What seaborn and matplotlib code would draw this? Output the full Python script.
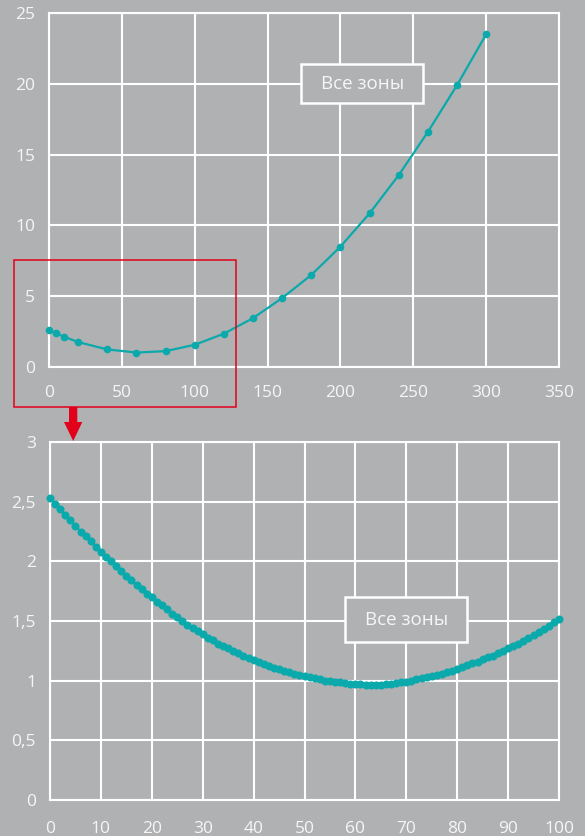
import numpy as np
import matplotlib
matplotlib.use("Agg")
import matplotlib.pyplot as plt
import seaborn as sns
from matplotlib.patches import Rectangle, Polygon

# данные верхнего графика (все зоны, шаг 20)
top_x = [0, 5, 10, 20, 40, 60, 80, 100, 120, 140, 160, 180, 200, 220, 240, 260, 280, 300]
top_y = [2.6, 2.38, 2.15, 1.76, 1.24, 1.02, 1.12, 1.57, 2.35, 3.45, 4.87, 6.5, 8.5,
         10.85, 13.55, 16.6, 19.9, 23.5]

# данные нижнего графика (0..100, шаг 1)
bot_x = list(range(0, 101))
bot_y = [2.53, 2.48, 2.44, 2.39, 2.35, 2.30, 2.25, 2.21, 2.17, 2.12,
         2.08, 2.04, 2.00, 1.96, 1.92, 1.88, 1.84, 1.80, 1.77, 1.73,
         1.70, 1.66, 1.63, 1.60, 1.56, 1.53, 1.50, 1.47, 1.44, 1.42,
         1.39, 1.36, 1.34, 1.31, 1.29, 1.27, 1.25, 1.23, 1.21, 1.19,
         1.17, 1.16, 1.14, 1.12, 1.11, 1.10, 1.08, 1.07, 1.06, 1.05,
         1.04, 1.03, 1.02, 1.01, 1.00, 0.995, 0.99, 0.985, 0.98, 0.975,
         0.97, 0.968, 0.966, 0.965, 0.965, 0.966, 0.968, 0.972, 0.978, 0.985,
         0.99, 1.00, 1.01, 1.02, 1.03, 1.04, 1.05, 1.06, 1.07, 1.085,
         1.10, 1.115, 1.13, 1.145, 1.16, 1.18, 1.195, 1.21, 1.23, 1.25,
         1.27, 1.29, 1.31, 1.33, 1.355, 1.38, 1.405, 1.43, 1.46, 1.49,
         1.52]

top_xticks = [0, 50, 100, 150, 200, 250, 300, 350]
top_yticks = [0, 5, 10, 15, 20, 25]
bot_xticks = [0, 10, 20, 30, 40, 50, 60, 70, 80, 90, 100]
bot_yticks = [0, 0.5, 1, 1.5, 2, 2.5, 3]
bot_ylabels = ["0", "0,5", "1", "1,5", "2", "2,5", "3"]
label = "Все зоны"

bg = "#b0b1b3"
teal = "#0aa9ab"
red = "#e2001a"
fg = "#f6f6f6"

sns.set_style("white")
plt.rcParams["font.family"] = ["Open Sans", "DejaVu Sans"]

W, H = 585, 836
fig = plt.figure(figsize=(W / 100, H / 100), dpi=100, facecolor=bg)


def box(l, t, r, b):
    return [l / W, 1 - b / H, (r - l) / W, (b - t) / H]


def px(x, y):
    return (x / W, 1 - y / H)


ax1 = fig.add_axes(box(49, 13, 559, 367))
ax2 = fig.add_axes(box(50, 442, 559, 800))

for ax in (ax1, ax2):
    ax.set_facecolor(bg)
    ax.grid(True, color="white", linewidth=1.5)
    ax.set_axisbelow(True)
    for s in ax.spines.values():
        s.set_color("white")
        s.set_linewidth(1.5)
    ax.tick_params(length=0, labelsize=12.5, labelcolor=fg)
    ax.tick_params(axis="y", pad=10)

ax1.tick_params(axis="x", pad=13)
ax2.tick_params(axis="x", pad=15)

sns.lineplot(x=top_x, y=top_y, ax=ax1, color=teal, linewidth=1.6, marker="o",
             markersize=5.5, markeredgewidth=0, clip_on=False, zorder=4)
sns.lineplot(x=bot_x, y=bot_y, ax=ax2, color=teal, linewidth=1.5, marker="o",
             markersize=5.8, markeredgewidth=0, clip_on=False, zorder=4)

ax1.set_xlim(0, 350)
ax1.set_ylim(0, 25)
ax1.set_xticks(top_xticks)
ax1.set_yticks(top_yticks)
ax1.set_xticklabels([str(v) for v in top_xticks])
ax1.set_yticklabels([str(v) for v in top_yticks])

ax2.set_xlim(0, 100)
ax2.set_ylim(0, 3)
ax2.set_xticks(bot_xticks)
ax2.set_yticks(bot_yticks)
ax2.set_xticklabels([str(v) for v in bot_xticks])
ax2.set_yticklabels(bot_ylabels)

# подписи в рамках
ax1.add_patch(Rectangle((173, 18.62), 84, 2.78, facecolor=bg, edgecolor="white",
                        linewidth=1.8, zorder=3))
ax1.text(215, 20.0, label, ha="center", va="center", fontsize=13.5, color=fg, zorder=5)
ax2.add_patch(Rectangle((58, 1.32), 24, 0.38, facecolor=bg, edgecolor="white",
                        linewidth=1.8, zorder=3))
ax2.text(70, 1.51, label, ha="center", va="center", fontsize=13.5, color=fg, zorder=5)

# красная рамка и стрелка
l, t, r, b = 14, 260, 236, 406.5
fig.add_artist(Rectangle(px(l, b), (r - l) / W, (b - t) / H, transform=fig.transFigure,
                         fill=False, edgecolor=red, linewidth=1.1))
arrow = [px(69, 407), px(77.3, 407), px(77.3, 422), px(82.3, 422), px(73.2, 441),
         px(64, 422), px(69, 422)]
fig.add_artist(Polygon(arrow, closed=True, transform=fig.transFigure,
                       facecolor=red, edgecolor="none"))

fig.savefig("out.png", dpi=100, facecolor=bg)
